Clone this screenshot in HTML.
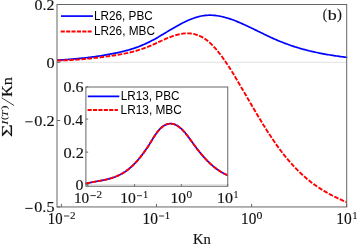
<!DOCTYPE html>
<html><head><meta charset="utf-8"><title>plot</title>
<style>
html,body{margin:0;padding:0;background:#fff;}
body{width:357px;height:245px;overflow:hidden;}
svg{display:block;will-change:transform;}
text{fill:#111;stroke:#111;stroke-width:0.1px;font-size:10px;}
.t{font-family:"Liberation Serif",serif;}
.h{font-family:"Liberation Sans",sans-serif;fill:#000;stroke:none;}
</style></head><body>
<svg width="357" height="245" viewBox="0 0 357 245">
<rect width="357" height="245" fill="#fff"/>
<line x1="57" y1="62.3" x2="346.7" y2="62.3" stroke="#d9d9d9" stroke-width="0.8"/>
<path d="M57.00,60.18 L58.33,60.10 L59.65,60.02 L60.98,59.94 L62.30,59.85 L63.63,59.76 L64.95,59.67 L66.28,59.57 L67.60,59.48 L68.93,59.38 L70.25,59.27 L71.58,59.16 L72.90,59.05 L74.23,58.94 L75.55,58.82 L76.88,58.70 L78.20,58.58 L79.53,58.45 L80.85,58.32 L82.18,58.18 L83.50,58.04 L84.83,57.90 L86.15,57.75 L87.48,57.60 L88.80,57.44 L90.13,57.28 L91.45,57.11 L92.78,56.94 L94.10,56.76 L95.43,56.58 L96.75,56.39 L98.08,56.20 L99.40,56.00 L100.73,55.80 L102.05,55.59 L103.38,55.37 L104.70,55.15 L106.03,54.92 L107.35,54.69 L108.68,54.45 L110.00,54.21 L111.33,53.95 L112.65,53.70 L113.98,53.43 L115.31,53.16 L116.63,52.88 L117.96,52.60 L119.28,52.31 L120.61,52.00 L121.93,51.69 L123.26,51.37 L124.58,51.04 L125.91,50.69 L127.23,50.34 L128.56,49.97 L129.88,49.58 L131.21,49.18 L132.53,48.76 L133.86,48.33 L135.18,47.88 L136.51,47.41 L137.83,46.93 L139.16,46.43 L140.48,45.91 L141.81,45.37 L143.13,44.81 L144.46,44.23 L145.78,43.64 L147.11,43.02 L148.43,42.39 L149.76,41.73 L151.08,41.05 L152.41,40.35 L153.73,39.64 L155.06,38.90 L156.38,38.16 L157.71,37.40 L159.03,36.62 L160.36,35.84 L161.68,35.05 L163.01,34.26 L164.33,33.46 L165.66,32.66 L166.98,31.86 L168.31,31.06 L169.63,30.26 L170.96,29.47 L172.28,28.69 L173.61,27.91 L174.94,27.15 L176.26,26.39 L177.59,25.65 L178.91,24.92 L180.24,24.21 L181.56,23.51 L182.89,22.83 L184.21,22.17 L185.54,21.53 L186.86,20.92 L188.19,20.32 L189.51,19.76 L190.84,19.22 L192.16,18.70 L193.49,18.22 L194.81,17.77 L196.14,17.35 L197.46,16.96 L198.79,16.61 L200.11,16.29 L201.44,16.01 L202.76,15.78 L204.09,15.58 L205.41,15.42 L206.74,15.31 L208.06,15.23 L209.39,15.20 L210.71,15.20 L212.04,15.25 L213.36,15.32 L214.69,15.44 L216.01,15.58 L217.34,15.76 L218.66,15.97 L219.99,16.21 L221.31,16.49 L222.64,16.78 L223.96,17.11 L225.29,17.46 L226.61,17.84 L227.94,18.24 L229.26,18.66 L230.59,19.11 L231.92,19.57 L233.24,20.05 L234.57,20.55 L235.89,21.07 L237.22,21.61 L238.54,22.15 L239.87,22.71 L241.19,23.29 L242.52,23.87 L243.84,24.47 L245.17,25.07 L246.49,25.68 L247.82,26.30 L249.14,26.93 L250.47,27.56 L251.79,28.19 L253.12,28.83 L254.44,29.48 L255.77,30.12 L257.09,30.77 L258.42,31.42 L259.74,32.06 L261.07,32.71 L262.39,33.36 L263.72,34.00 L265.04,34.64 L266.37,35.28 L267.69,35.91 L269.02,36.53 L270.34,37.15 L271.67,37.76 L272.99,38.37 L274.32,38.96 L275.64,39.55 L276.97,40.12 L278.29,40.69 L279.62,41.24 L280.94,41.78 L282.27,42.31 L283.59,42.83 L284.92,43.33 L286.24,43.83 L287.57,44.31 L288.89,44.78 L290.22,45.25 L291.55,45.70 L292.87,46.14 L294.20,46.57 L295.52,46.99 L296.85,47.40 L298.17,47.81 L299.50,48.20 L300.82,48.58 L302.15,48.96 L303.47,49.32 L304.80,49.68 L306.12,50.03 L307.45,50.36 L308.77,50.70 L310.10,51.02 L311.42,51.33 L312.75,51.64 L314.07,51.94 L315.40,52.23 L316.72,52.51 L318.05,52.79 L319.37,53.06 L320.70,53.33 L322.02,53.58 L323.35,53.83 L324.67,54.08 L326.00,54.31 L327.32,54.55 L328.65,54.77 L329.97,54.99 L331.30,55.21 L332.62,55.42 L333.95,55.62 L335.27,55.82 L336.60,56.02 L337.92,56.21 L339.25,56.39 L340.57,56.57 L341.90,56.75 L343.22,56.93 L344.55,57.09 L345.87,57.26 L347.20,57.42" fill="none" stroke="#0000ff" stroke-width="1.7" stroke-linejoin="round"/>
<path d="M57.00,60.60 L58.32,60.56 L59.65,60.52 L60.97,60.47 L62.29,60.42 L63.62,60.36 L64.94,60.30 L66.26,60.24 L67.59,60.18 L68.91,60.11 L70.23,60.03 L71.56,59.96 L72.88,59.88 L74.20,59.79 L75.53,59.70 L76.85,59.61 L78.17,59.51 L79.50,59.42 L80.82,59.31 L82.14,59.20 L83.47,59.09 L84.79,58.98 L86.11,58.86 L87.44,58.74 L88.76,58.61 L90.08,58.48 L91.41,58.35 L92.73,58.21 L94.05,58.07 L95.38,57.92 L96.70,57.77 L98.02,57.62 L99.35,57.46 L100.67,57.30 L101.99,57.13 L103.32,56.96 L104.64,56.79 L105.96,56.61 L107.28,56.42 L108.61,56.24 L109.93,56.05 L111.25,55.85 L112.58,55.65 L113.90,55.45 L115.22,55.24 L116.55,55.02 L117.87,54.80 L119.19,54.58 L120.52,54.35 L121.84,54.11 L123.16,53.86 L124.49,53.61 L125.81,53.34 L127.13,53.06 L128.46,52.77 L129.78,52.47 L131.10,52.15 L132.43,51.82 L133.75,51.47 L135.07,51.11 L136.40,50.73 L137.72,50.34 L139.04,49.93 L140.37,49.51 L141.69,49.07 L143.01,48.62 L144.34,48.14 L145.66,47.66 L146.98,47.15 L148.31,46.63 L149.63,46.09 L150.95,45.54 L152.28,44.97 L153.60,44.38 L154.92,43.79 L156.25,43.19 L157.57,42.58 L158.89,41.97 L160.22,41.36 L161.54,40.76 L162.86,40.16 L164.19,39.57 L165.51,38.99 L166.83,38.43 L168.16,37.88 L169.48,37.35 L170.80,36.84 L172.13,36.36 L173.45,35.91 L174.77,35.48 L176.10,35.09 L177.42,34.73 L178.74,34.41 L180.07,34.12 L181.39,33.88 L182.71,33.68 L184.04,33.52 L185.36,33.42 L186.68,33.36 L188.01,33.35 L189.33,33.40 L190.65,33.51 L191.98,33.67 L193.30,33.90 L194.62,34.19 L195.95,34.55 L197.27,34.97 L198.59,35.46 L199.92,36.03 L201.24,36.68 L202.56,37.40 L203.88,38.20 L205.21,39.08 L206.53,40.04 L207.85,41.09 L209.18,42.21 L210.50,43.40 L211.82,44.67 L213.15,46.02 L214.47,47.43 L215.79,48.91 L217.12,50.45 L218.44,52.06 L219.76,53.73 L221.09,55.46 L222.41,57.25 L223.73,59.09 L225.06,60.99 L226.38,62.94 L227.70,64.93 L229.03,66.97 L230.35,69.05 L231.67,71.16 L233.00,73.31 L234.32,75.49 L235.64,77.69 L236.97,79.92 L238.29,82.17 L239.61,84.43 L240.94,86.70 L242.26,88.98 L243.58,91.27 L244.91,93.56 L246.23,95.84 L247.55,98.13 L248.88,100.41 L250.20,102.69 L251.52,104.97 L252.85,107.23 L254.17,109.49 L255.49,111.73 L256.82,113.97 L258.14,116.19 L259.46,118.40 L260.79,120.59 L262.11,122.76 L263.43,124.91 L264.76,127.05 L266.08,129.16 L267.40,131.24 L268.73,133.31 L270.05,135.34 L271.37,137.35 L272.70,139.33 L274.02,141.28 L275.34,143.19 L276.67,145.08 L277.99,146.92 L279.31,148.74 L280.64,150.51 L281.96,152.25 L283.28,153.95 L284.61,155.62 L285.93,157.25 L287.25,158.85 L288.58,160.41 L289.90,161.94 L291.22,163.44 L292.55,164.91 L293.87,166.34 L295.19,167.74 L296.52,169.10 L297.84,170.44 L299.16,171.74 L300.48,173.01 L301.81,174.26 L303.13,175.47 L304.45,176.65 L305.78,177.81 L307.10,178.93 L308.42,180.03 L309.75,181.09 L311.07,182.13 L312.39,183.14 L313.72,184.13 L315.04,185.09 L316.36,186.02 L317.69,186.93 L319.01,187.81 L320.33,188.67 L321.66,189.51 L322.98,190.32 L324.30,191.12 L325.63,191.89 L326.95,192.65 L328.27,193.39 L329.60,194.11 L330.92,194.81 L332.24,195.50 L333.57,196.17 L334.89,196.83 L336.21,197.47 L337.54,198.10 L338.86,198.72 L340.18,199.33 L341.51,199.92 L342.83,200.51 L344.15,201.09 L345.48,201.66 L346.80,202.22" fill="none" stroke="#ff0000" stroke-width="1.9" stroke-dasharray="4.6 1.5" stroke-linejoin="round"/>
<rect x="57" y="4.5" width="289.7" height="202.45" fill="none" stroke="#666" stroke-width="1"/>
<g stroke="#666" stroke-width="1">
<line x1="57" y1="4.5" x2="60.2" y2="4.5"/>
<line x1="57" y1="62.3" x2="60.2" y2="62.3"/>
<line x1="57" y1="120.5" x2="60.2" y2="120.5"/>
<line x1="57" y1="206.95" x2="60.2" y2="206.95"/>
<line x1="61.4" y1="206.95" x2="61.4" y2="203.9"/>
<line x1="156.5" y1="206.95" x2="156.5" y2="203.9"/>
<line x1="251.6" y1="206.95" x2="251.6" y2="203.9"/>
<line x1="346.7" y1="206.95" x2="346.7" y2="203.9"/>
</g>
<line x1="61" y1="16.1" x2="93" y2="16.1" stroke="#0000ff" stroke-width="1.7"/>
<line x1="60.7" y1="31.5" x2="91.7" y2="31.5" stroke="#ff0000" stroke-width="1.9" stroke-dasharray="4.1 1.3"/>
<rect x="85.9" y="87" width="141.85" height="99.25" fill="#fff" stroke="none"/>
<line x1="85.9" y1="184.6" x2="227.75" y2="184.6" stroke="#d9d9d9" stroke-width="0.8"/>
<path d="M85.60,183.65 L86.25,183.48 L86.90,183.33 L87.55,183.17 L88.20,183.03 L88.84,182.88 L89.49,182.74 L90.14,182.61 L90.79,182.48 L91.44,182.35 L92.09,182.22 L92.74,182.10 L93.39,181.98 L94.04,181.86 L94.68,181.74 L95.33,181.62 L95.98,181.51 L96.63,181.39 L97.28,181.28 L97.93,181.16 L98.58,181.04 L99.23,180.93 L99.87,180.81 L100.52,180.69 L101.17,180.57 L101.82,180.44 L102.47,180.32 L103.12,180.19 L103.77,180.06 L104.42,179.92 L105.07,179.78 L105.71,179.63 L106.36,179.49 L107.01,179.33 L107.66,179.17 L108.31,179.01 L108.96,178.84 L109.61,178.66 L110.26,178.48 L110.91,178.29 L111.55,178.09 L112.20,177.88 L112.85,177.67 L113.50,177.45 L114.15,177.22 L114.80,176.98 L115.45,176.73 L116.10,176.48 L116.75,176.21 L117.39,175.93 L118.04,175.64 L118.69,175.34 L119.34,175.03 L119.99,174.71 L120.64,174.37 L121.29,174.03 L121.94,173.67 L122.58,173.29 L123.23,172.91 L123.88,172.51 L124.53,172.10 L125.18,171.67 L125.83,171.22 L126.48,170.77 L127.13,170.29 L127.78,169.81 L128.42,169.30 L129.07,168.78 L129.72,168.24 L130.37,167.69 L131.02,167.12 L131.67,166.53 L132.32,165.93 L132.97,165.31 L133.62,164.67 L134.26,164.02 L134.91,163.35 L135.56,162.67 L136.21,161.97 L136.86,161.25 L137.51,160.52 L138.16,159.77 L138.81,159.00 L139.46,158.22 L140.10,157.43 L140.75,156.62 L141.40,155.79 L142.05,154.94 L142.70,154.09 L143.35,153.21 L144.00,152.32 L144.65,151.42 L145.29,150.50 L145.94,149.56 L146.59,148.61 L147.24,147.64 L147.89,146.66 L148.54,145.67 L149.19,144.66 L149.84,143.63 L150.49,142.59 L151.13,141.54 L151.78,140.48 L152.43,139.42 L153.08,138.37 L153.73,137.32 L154.38,136.30 L155.03,135.30 L155.68,134.33 L156.33,133.40 L156.97,132.51 L157.62,131.67 L158.27,130.86 L158.92,130.10 L159.57,129.39 L160.22,128.71 L160.87,128.09 L161.52,127.50 L162.17,126.96 L162.81,126.45 L163.46,126.00 L164.11,125.58 L164.76,125.20 L165.41,124.87 L166.06,124.58 L166.71,124.33 L167.36,124.12 L168.01,123.95 L168.65,123.82 L169.30,123.73 L169.95,123.68 L170.60,123.67 L171.25,123.69 L171.90,123.76 L172.55,123.86 L173.20,124.00 L173.84,124.18 L174.49,124.39 L175.14,124.64 L175.79,124.93 L176.44,125.25 L177.09,125.61 L177.74,126.00 L178.39,126.43 L179.04,126.89 L179.68,127.39 L180.33,127.92 L180.98,128.48 L181.63,129.08 L182.28,129.71 L182.93,130.37 L183.58,131.07 L184.23,131.79 L184.88,132.54 L185.52,133.31 L186.17,134.11 L186.82,134.93 L187.47,135.77 L188.12,136.62 L188.77,137.49 L189.42,138.37 L190.07,139.25 L190.72,140.15 L191.36,141.05 L192.01,141.95 L192.66,142.86 L193.31,143.76 L193.96,144.66 L194.61,145.56 L195.26,146.44 L195.91,147.32 L196.55,148.18 L197.20,149.04 L197.85,149.88 L198.50,150.71 L199.15,151.52 L199.80,152.33 L200.45,153.12 L201.10,153.91 L201.75,154.68 L202.39,155.43 L203.04,156.18 L203.69,156.92 L204.34,157.64 L204.99,158.35 L205.64,159.04 L206.29,159.73 L206.94,160.40 L207.59,161.06 L208.23,161.71 L208.88,162.35 L209.53,162.97 L210.18,163.58 L210.83,164.18 L211.48,164.77 L212.13,165.34 L212.78,165.90 L213.43,166.45 L214.07,166.99 L214.72,167.51 L215.37,168.02 L216.02,168.51 L216.67,169.00 L217.32,169.47 L217.97,169.93 L218.62,170.37 L219.26,170.80 L219.91,171.22 L220.56,171.63 L221.21,172.02 L221.86,172.40 L222.51,172.77 L223.16,173.12 L223.81,173.46 L224.46,173.78 L225.10,174.10 L225.75,174.40 L226.40,174.68 L227.05,174.95 L227.70,175.21" fill="none" stroke="#0000ff" stroke-width="1.7"/>
<path d="M85.60,183.65 L86.25,183.48 L86.90,183.33 L87.55,183.17 L88.20,183.03 L88.84,182.88 L89.49,182.74 L90.14,182.61 L90.79,182.48 L91.44,182.35 L92.09,182.22 L92.74,182.10 L93.39,181.98 L94.04,181.86 L94.68,181.74 L95.33,181.62 L95.98,181.51 L96.63,181.39 L97.28,181.28 L97.93,181.16 L98.58,181.04 L99.23,180.93 L99.87,180.81 L100.52,180.69 L101.17,180.57 L101.82,180.44 L102.47,180.32 L103.12,180.19 L103.77,180.06 L104.42,179.92 L105.07,179.78 L105.71,179.63 L106.36,179.49 L107.01,179.33 L107.66,179.17 L108.31,179.01 L108.96,178.84 L109.61,178.66 L110.26,178.48 L110.91,178.29 L111.55,178.09 L112.20,177.88 L112.85,177.67 L113.50,177.45 L114.15,177.22 L114.80,176.98 L115.45,176.73 L116.10,176.48 L116.75,176.21 L117.39,175.93 L118.04,175.64 L118.69,175.34 L119.34,175.03 L119.99,174.71 L120.64,174.37 L121.29,174.03 L121.94,173.67 L122.58,173.29 L123.23,172.91 L123.88,172.51 L124.53,172.10 L125.18,171.67 L125.83,171.22 L126.48,170.77 L127.13,170.29 L127.78,169.81 L128.42,169.30 L129.07,168.78 L129.72,168.24 L130.37,167.69 L131.02,167.12 L131.67,166.53 L132.32,165.93 L132.97,165.31 L133.62,164.67 L134.26,164.02 L134.91,163.35 L135.56,162.67 L136.21,161.97 L136.86,161.25 L137.51,160.52 L138.16,159.77 L138.81,159.00 L139.46,158.22 L140.10,157.43 L140.75,156.62 L141.40,155.79 L142.05,154.94 L142.70,154.09 L143.35,153.21 L144.00,152.32 L144.65,151.42 L145.29,150.50 L145.94,149.56 L146.59,148.61 L147.24,147.64 L147.89,146.66 L148.54,145.67 L149.19,144.66 L149.84,143.63 L150.49,142.59 L151.13,141.54 L151.78,140.48 L152.43,139.42 L153.08,138.37 L153.73,137.32 L154.38,136.30 L155.03,135.30 L155.68,134.33 L156.33,133.40 L156.97,132.51 L157.62,131.67 L158.27,130.86 L158.92,130.10 L159.57,129.39 L160.22,128.71 L160.87,128.09 L161.52,127.50 L162.17,126.96 L162.81,126.45 L163.46,126.00 L164.11,125.58 L164.76,125.20 L165.41,124.87 L166.06,124.58 L166.71,124.33 L167.36,124.12 L168.01,123.95 L168.65,123.82 L169.30,123.73 L169.95,123.68 L170.60,123.67 L171.25,123.69 L171.90,123.76 L172.55,123.86 L173.20,124.00 L173.84,124.18 L174.49,124.39 L175.14,124.64 L175.79,124.93 L176.44,125.25 L177.09,125.61 L177.74,126.00 L178.39,126.43 L179.04,126.89 L179.68,127.39 L180.33,127.92 L180.98,128.48 L181.63,129.08 L182.28,129.71 L182.93,130.37 L183.58,131.07 L184.23,131.79 L184.88,132.54 L185.52,133.31 L186.17,134.11 L186.82,134.93 L187.47,135.77 L188.12,136.62 L188.77,137.49 L189.42,138.37 L190.07,139.25 L190.72,140.15 L191.36,141.05 L192.01,141.95 L192.66,142.86 L193.31,143.76 L193.96,144.66 L194.61,145.56 L195.26,146.44 L195.91,147.32 L196.55,148.18 L197.20,149.04 L197.85,149.88 L198.50,150.71 L199.15,151.52 L199.80,152.33 L200.45,153.12 L201.10,153.91 L201.75,154.68 L202.39,155.43 L203.04,156.18 L203.69,156.92 L204.34,157.64 L204.99,158.35 L205.64,159.04 L206.29,159.73 L206.94,160.40 L207.59,161.06 L208.23,161.71 L208.88,162.35 L209.53,162.97 L210.18,163.58 L210.83,164.18 L211.48,164.77 L212.13,165.34 L212.78,165.90 L213.43,166.45 L214.07,166.99 L214.72,167.51 L215.37,168.02 L216.02,168.51 L216.67,169.00 L217.32,169.47 L217.97,169.93 L218.62,170.37 L219.26,170.80 L219.91,171.22 L220.56,171.63 L221.21,172.02 L221.86,172.40 L222.51,172.77 L223.16,173.12 L223.81,173.46 L224.46,173.78 L225.10,174.10 L225.75,174.40 L226.40,174.68 L227.05,174.95 L227.70,175.21" fill="none" stroke="#ff0000" stroke-width="1.9" stroke-dasharray="4.6 1.5"/>
<rect x="85.9" y="87" width="141.85" height="99.25" fill="none" stroke="#666" stroke-width="1"/>
<g stroke="#666" stroke-width="1">
<line x1="85.9" y1="87" x2="88.2" y2="87"/>
<line x1="85.9" y1="119.1" x2="88.2" y2="119.1"/>
<line x1="85.9" y1="152.1" x2="88.2" y2="152.1"/>
<line x1="85.9" y1="184.9" x2="88.2" y2="184.9"/>
<line x1="87.9" y1="186.25" x2="87.9" y2="184.2"/>
<line x1="134.6" y1="186.25" x2="134.6" y2="184.2"/>
<line x1="181.4" y1="186.25" x2="181.4" y2="184.2"/>
<line x1="227.7" y1="186.25" x2="227.7" y2="184.2"/>
</g>
<line x1="87.8" y1="96.3" x2="119.3" y2="96.3" stroke="#0000ff" stroke-width="1.7"/>
<line x1="87.6" y1="110.0" x2="117.9" y2="110.0" stroke="#ff0000" stroke-width="1.9" stroke-dasharray="4.1 1.3"/>
<text class="h" transform="translate(93.93,20.10) scale(1.1777,1.1927)">LR26, PBC</text>
<text class="h" transform="translate(93.92,34.80) scale(1.1822,1.1927)">LR26, MBC</text>
<text class="h" transform="translate(120.63,99.60) scale(1.1777,1.1927)">LR13, PBC</text>
<text class="h" transform="translate(120.62,113.80) scale(1.1861,1.1927)">LR13, MBC</text>
<text class="t" stroke-width="0.02" transform="translate(322.74,19.33) scale(1.3077,1.4435)">(</text>
<text class="t" stroke-width="0.02" transform="translate(327.70,20.20) scale(1.7946,1.4964)">b</text>
<text class="t" stroke-width="0.02" transform="translate(337.02,19.33) scale(1.4757,1.4435)">)</text>
<text class="t" transform="translate(34.60,9.80) scale(1.5983,1.5338)">0.2</text>
<text class="t" transform="translate(46.39,67.80) scale(1.6235,1.5188)">0</text>
<line x1="25.3" y1="121.8" x2="32.6" y2="121.8" stroke="#111" stroke-width="0.95"/>
<text class="t" transform="translate(34.29,125.60) scale(1.6328,1.4586)">0.2</text>
<line x1="25.3" y1="208.4" x2="32.6" y2="208.4" stroke="#111" stroke-width="0.95"/>
<text class="t" transform="translate(34.29,212.40) scale(1.6170,1.4887)">0.5</text>
<text class="t" transform="translate(47.81,223.80) scale(1.4743,1.5940)">10</text><line x1="64.0" y1="216.0" x2="69.3" y2="216.0" stroke="#111" stroke-width="0.85"/><text class="t" stroke-width="0.12" transform="translate(69.92,218.90) scale(1.1180,0.9925)">2</text>
<text class="t" transform="translate(142.45,223.80) scale(1.5429,1.5940)">10</text><line x1="159.0" y1="216.0" x2="164.1" y2="216.0" stroke="#111" stroke-width="0.85"/><text class="t" stroke-width="0.12" transform="translate(164.86,218.80) scale(1.0780,1.0075)">1</text>
<text class="t" transform="translate(241.06,223.80) scale(1.5314,1.5940)">10</text><text class="t" stroke-width="0.12" transform="translate(256.56,218.90) scale(1.1765,1.0677)">0</text>
<text class="t" transform="translate(336.35,223.80) scale(1.5429,1.5940)">10</text><text class="t" stroke-width="0.12" transform="translate(352.26,218.80) scale(1.0780,1.0075)">1</text>
<text class="t" stroke-width="0.02" transform="translate(193.00,244.40) scale(1.4661,1.4046)">Kn</text>
<text class="t" transform="translate(63.40,92.00) scale(1.6068,1.4135)">0.6</text>
<text class="t" transform="translate(63.41,124.60) scale(1.5866,1.3534)">0.4</text>
<text class="t" transform="translate(63.38,157.80) scale(1.6415,1.3684)">0.2</text>
<text class="t" transform="translate(75.40,190.20) scale(1.6000,1.3835)">0</text>
<text class="t" transform="translate(73.96,203.00) scale(1.5314,1.5338)">10</text><line x1="90.4" y1="195.6" x2="95.9" y2="195.6" stroke="#111" stroke-width="0.85"/><text class="t" stroke-width="0.12" transform="translate(96.42,198.20) scale(1.1180,0.9925)">2</text>
<text class="t" transform="translate(120.23,203.00) scale(1.5657,1.5338)">10</text><line x1="137.0" y1="195.7" x2="142.0" y2="195.7" stroke="#111" stroke-width="0.85"/><text class="t" stroke-width="0.12" transform="translate(142.88,198.20) scale(1.0496,1.0075)">1</text>
<text class="t" transform="translate(170.54,203.00) scale(1.5543,1.5338)">10</text><text class="t" stroke-width="0.12" transform="translate(186.48,198.30) scale(1.1294,1.0677)">0</text>
<text class="t" transform="translate(216.99,203.00) scale(1.6114,1.5338)">10</text><text class="t" stroke-width="0.12" transform="translate(233.53,198.00) scale(0.9929,1.0226)">1</text>
<g transform="translate(11.8,136.2) rotate(-90)">
<text class="t" stroke-width="0.02" transform="translate(-0.82,0.20) scale(2.1818,1.4656)">Σ</text>
<text class="t" font-style="italic" stroke-width="0.06" transform="translate(11.36,-4.00) scale(1.2185,0.7939)">I</text>
<text class="t" stroke-width="0.06" transform="translate(16.14,-4.83) scale(1.0769,0.8154)">(</text>
<text class="t" font-style="italic" stroke-width="0.06" transform="translate(19.24,-4.00) scale(1.1636,0.7939)">T</text>
<text class="t" stroke-width="0.06" transform="translate(26.81,-4.83) scale(1.2039,0.8154)">)</text>
<line x1="30.7" y1="2.3" x2="38.4" y2="-10.1" stroke="#222" stroke-width="0.85"/>
<text class="t" stroke-width="0.02" transform="translate(39.15,0.30) scale(1.6356,1.4962)">Kn</text>
</g>
</svg>
</body></html>
